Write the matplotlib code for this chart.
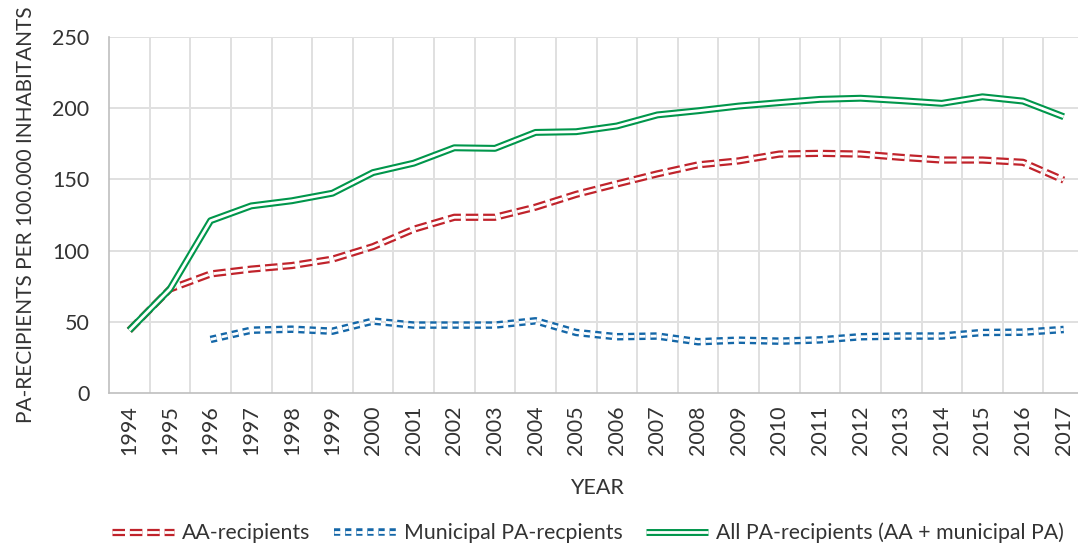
import matplotlib
matplotlib.use("Agg")
import matplotlib.pyplot as plt
from matplotlib import patheffects as pe
import numpy as np

plt.rcParams['font.family'] = ['Lato', 'DejaVu Sans']
plt.rcParams['lines.scale_dashes'] = False

years = [str(y) for y in range(1994, 2018)]
aa_recipients = [44, 73, 83.6, 87, 89.5, 94, 102.8, 115, 123.4, 123.4, 130.5, 139.5,
                 146.8, 153.9, 160.2, 163, 167.8, 168.3, 167.8, 165.5, 163.6, 163.6, 162, 149.5]
municipal_pa = [None, None, 37.6, 44.1, 44.8, 43.4, 50.5, 47.7, 47.7, 47.7, 50.7, 42.5,
                39.5, 40, 36, 37.1, 36.4, 37.3, 39.5, 40, 40, 42.5, 42.7, 44.6]
all_pa = [44, 73, 121, 131.4, 135, 140.3, 154.8, 161.4, 172.2, 171.8, 183, 183.5,
          187.5, 195.3, 198.2, 201.5, 203.9, 206.2, 207, 205.3, 203.4, 208, 205, 194]

labels = ["AA-recipients", "Municipal PA-recpients", "All PA-recipients (AA + municipal PA)"]
colors = ["#C0232B", "#1467A8", "#00964B"]
dash_styles = [(9, 3.5), (4.5, 3.5), None]
totals = [5.2, 5.4, 5.0]
gaps = [2.0, 2.0, 2.0]
text_col = "#333333"

W, H = 1078, 547
fig = plt.figure(figsize=(W / 100, H / 100), dpi=100)
ax = fig.add_axes([109 / W, 1 - 393 / H, 975 / W, (393 - 37) / H])

x = np.arange(len(years))
series = [aa_recipients, municipal_pa, all_pa]
handles = []
for vals, col, dsh, tot, gp, lab in zip(series, colors, dash_styles, totals, gaps, labels):
    y = np.array([np.nan if v is None else v for v in vals], dtype=float)
    kw = dict(color='white', lw=gp, solid_capstyle='butt', dash_capstyle='butt',
              solid_joinstyle='round', dash_joinstyle='round',
              path_effects=[pe.Stroke(linewidth=tot, foreground=col), pe.Normal()],
              label=lab, zorder=3)
    if dsh is not None:
        kw['dashes'] = dsh
    ln, = ax.plot(x, y, **kw)
    handles.append(ln)

ax.set_xlim(-0.5, len(years) - 0.5)
ax.set_ylim(0, 250)
ax.set_yticks([0, 50, 100, 150, 200, 250])
ax.set_xticks(x)
ax.set_xticklabels(years, rotation=90)

grid_col = "#E0E0E0"
ax.grid(False)
for yv in [50, 100, 150, 200, 250]:
    ax.axhline(yv, color=grid_col, lw=1.4, zorder=1)
for xv in np.arange(0.5, len(years), 1):
    ax.axvline(xv, color=grid_col, lw=1.4, zorder=1)

for s in ['top', 'right']:
    ax.spines[s].set_visible(False)
for s in ['left', 'bottom']:
    ax.spines[s].set_color("#BFBFBF")
    ax.spines[s].set_linewidth(1.2)

ax.tick_params(axis='both', which='both', length=0, colors=text_col, labelsize=15.5)
ax.tick_params(axis='x', pad=9)
ax.tick_params(axis='y', pad=14)

ax.set_xlabel("YEAR", fontsize=15.5, color=text_col, labelpad=16)
ax.set_ylabel("PA-RECIPIENTS PER 100.000 INHABITANTS", fontsize=15, color=text_col, labelpad=12)

fig.legend(handles=handles, labels=labels, loc='center left',
           bbox_to_anchor=(112 / W, 1 - 533 / H), ncol=3, frameon=False,
           borderpad=0, borderaxespad=0,
           fontsize=15.3, handlelength=2.9, handletextpad=0.4, columnspacing=1.1,
           labelcolor=text_col)

fig.savefig("out.png", dpi=100)
